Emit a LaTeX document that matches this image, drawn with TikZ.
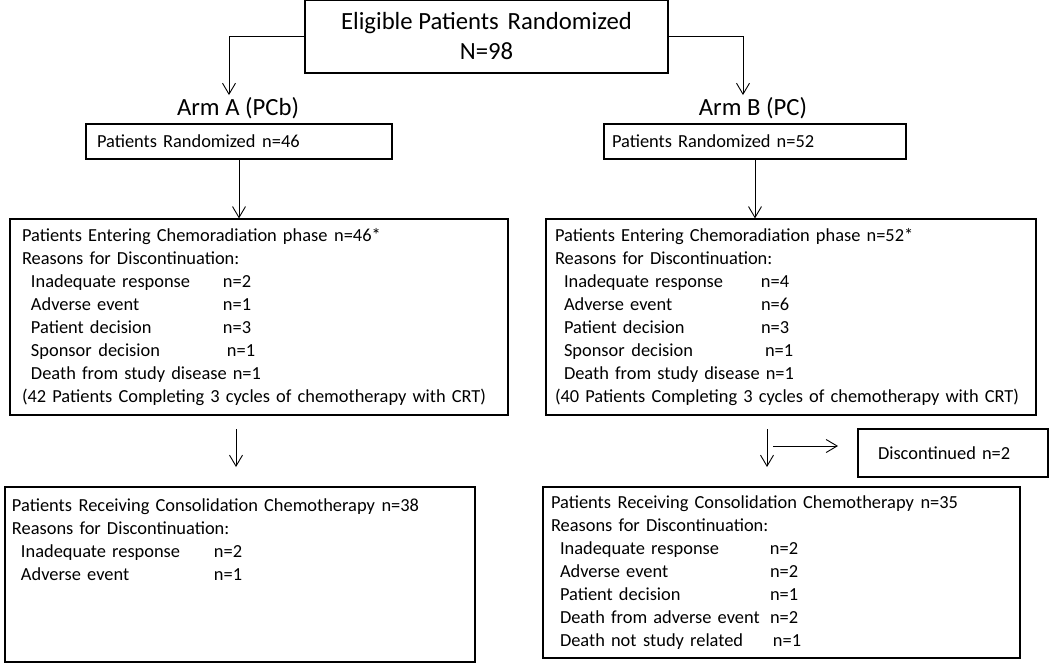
\documentclass[tikz,border=0pt]{standalone}
\usepackage{fontspec}
\setmainfont{Carlito}
\usepackage{tikz}
\usetikzlibrary{arrows.meta}

\newcommand\bodyfont{\fontsize{18.4}{23}\selectfont}
\newcommand\bigfont{\fontsize{24.7}{30}\selectfont}
\newcommand\why[3]{\hspace*{9pt}\makebox[#1][l]{#2}#3}
\newcommand\gap{\hspace{0.36em}}

\begin{document}
\begin{tikzpicture}
      [x=1pt,y=-1pt,
        box/.style={draw,line width=1.2pt,rectangle,inner ysep=0pt,font=\bodyfont},
        lbox/.style={box,align=left},
        arm/.style={font=\bigfont,inner sep=2pt},
        link/.style={line width=0.9pt,-{Straight Barb[length=11pt,width=13pt,line width=0.9pt]}}]
  \useasboundingbox (0,0) rectangle (1050,665);

  \node[box,font=\bigfont,align=center,minimum width=363pt,minimum height=73pt]
    (elig) at (486.5,36.5) {Eligible Patients\gap Randomized\\N=98};
  \node[arm] (armA) at (238,108) {Arm A (PCb)};
  \node[arm] (armB) at (753,108) {Arm B (PC)};

  \node[lbox,text width=284pt,inner xsep=11pt,minimum height=35pt]
    (randA) at (239,141.5) {Patients Randomized\gap n=46};
  \node[lbox,text width=286pt,inner xsep=8pt,minimum height=35pt]
    (randB) at (755,141.5) {Patients Randomized n=52};

  \node[lbox,text width=474pt,inner xsep=12pt,minimum height=196pt] (entA) at (259,317) {
    Patients Entering Chemoradiation phase\gap n=46*\\
    Reasons for Discontinuation:\\
    \why{192pt}{Inadequate response}{n=2}\\
    \why{192pt}{Adverse event}{n=1}\\
    \why{192pt}{Patient decision}{n=3}\\
    \why{196pt}{Sponsor\gap decision}{n=1}\\
    \hspace*{9pt}Death from study disease n=1\\
    (42 Patients Completing 3 cycles of chemotherapy with CRT)};
  \node[lbox,text width=472pt,inner xsep=9pt,minimum height=196pt] (entB) at (791,317) {
    Patients Entering Chemoradiation phase n=52*\\
    Reasons for Discontinuation:\\
    \why{197pt}{Inadequate response}{n=4}\\
    \why{197pt}{Adverse event}{n=6}\\
    \why{197pt}{Patient decision}{n=3}\\
    \why{201pt}{Sponsor\gap decision}{n=1}\\
    \hspace*{9pt}Death from study disease n=1\\
    (40 Patients Completing 3 cycles of chemotherapy with CRT)};

  \node[lbox,text width=150pt,inner xsep=20pt,minimum height=48pt]
    (discont) at (953,453) {Discontinued n=2};

  \node[lbox,text width=456pt,inner xsep=7pt,minimum height=175pt] (consA) at (240,574.5) {
    Patients\gap Receiving Consolidation Chemotherapy\gap n=38\\
    Reasons for Discontinuation:\\
    \why{193pt}{Inadequate response}{n=2}\\
    \why{193pt}{Adverse event}{n=1}\\
    \mbox{}\\
    \mbox{}\\
    \mbox{}};
  \node[lbox,text width=461pt,inner xsep=8pt,minimum height=171pt] (consB) at (781.5,572.5) {
    Patients\gap Receiving Consolidation Chemotherapy\gap n=35\\
    Reasons for Discontinuation:\\
    \why{210pt}{Inadequate response}{n=2}\\
    \why{210pt}{Adverse event}{n=2}\\
    \why{210pt}{Patient decision}{n=1}\\
    \why{210pt}{Death from adverse event}{n=2}\\
    \why{213pt}{Death not\gap study related}{n=1}};

  \coordinate (downA) at (236,429);
  \coordinate (downB) at (767,429);
  \coordinate (sideB) at (773,446);

  \draw[link] (elig.west) -| ([xshift=-9pt]armA.north);
  \draw[link] (elig.east) -| ([xshift=-10pt]armB.north);
  \draw[link] (randA.south) -- (randA.south |- entA.north);
  \draw[link] (randB.south) -- (randB.south |- entB.north);
  \draw[link] (downA) -- ++(0,38);
  \draw[link] (downB) -- ++(0,38);
  \draw[link] (sideB) -- ++(65,0);
 \end{tikzpicture}
\end{document}
